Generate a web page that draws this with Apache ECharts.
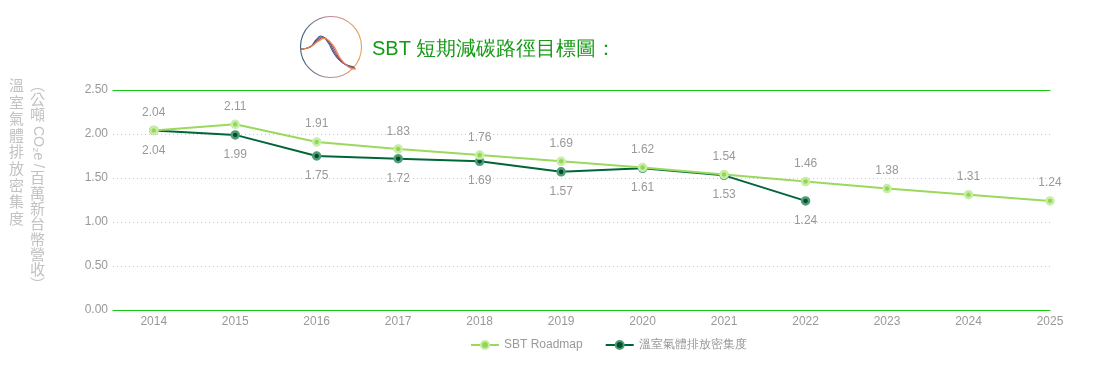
<!DOCTYPE html>
<html>
<head>
<meta charset="utf-8">
<script src="https://cdn.jsdelivr.net/npm/echarts@6/dist/echarts.min.js"></script>
<style>
html,body{margin:0;padding:0;background:#fff;}
#chart{width:1099px;height:369px;}
</style>
</head>
<body>
<div id="chart"></div>
<script>
var years = [2014, 2015, 2016, 2017, 2018, 2019, 2020, 2021, 2022, 2023, 2024, 2025];
var sbtRoadmap = [2.04, 2.11, 1.91, 1.83, 1.76, 1.69, 1.62, 1.54, 1.46, 1.38, 1.31, 1.24];
var actualYears = [2014, 2015, 2016, 2017, 2018, 2019, 2020, 2021, 2022];
var actualIntensity = [2.04, 1.99, 1.75, 1.72, 1.69, 1.57, 1.61, 1.53, 1.24];
var yTicks = [0, 0.5, 1, 1.5, 2, 2.5];
var titleText = 'SBT 短期減碳路徑目標圖：';
var seriesNames = ['SBT Roadmap', '溫室氣體排放密集度'];

var LAT = 'Liberation Sans';
var CJK = 'Noto Sans CJK TC';
var GREEN = '#14c814';

function pairs(xs, ys) { return xs.map(function (x, i) { return [x, ys[i]]; }); }

var logoCurves = [];
var curveColors = ['#2f5f86', '#6b4f8f', '#b5475d', '#e58a4a'];
curveColors.forEach(function (c, k) {
  var dx = k * 2.0, dy = k * 1.4;
  logoCurves.push({
    type: 'polyline',
    shape: {
      smooth: 0.5,
      points: [[301, 49], [310, 47], [316 + dx * 0.4, 40 + dy * 0.3], [321 + dx * 0.7, 36 + dy * 0.6],
               [327 + dx, 41 + dy], [335 + dx, 55 + dy], [343 + dx, 63 + dy], [354 + dx * 0.3, 67 + dy * 0.5]]
    },
    style: { stroke: c, lineWidth: 1.1, fill: null },
    silent: true
  });
});

var labelBase = { color: '#999', fontSize: 12, fontFamily: LAT };

var chart = echarts.init(document.getElementById('chart'));
chart.setOption({
  animation: false,
  textStyle: { fontFamily: LAT },
  title: {
    text: titleText,
    left: 367,
    top: 34,
    textStyle: { fontFamily: LAT, fontSize: 20, fontWeight: 'normal', color: '#149a14' }
  },
  grid: { left: 113, right: 49, top: 90, bottom: 59, containLabel: false },
  legend: {
    left: 465,
    top: 334,
    itemWidth: 28,
    itemHeight: 10,
    itemGap: 22,
    textStyle: { color: '#999', fontSize: 12, fontFamily: LAT },
    data: seriesNames
  },
  xAxis: [{
    type: 'value',
    min: 2013.5,
    max: 2025,
    interval: 0.5,
    axisLine: { show: true, onZero: false, lineStyle: { color: GREEN, width: 1.2 } },
    axisTick: { show: false },
    splitLine: { show: false },
    axisLabel: Object.assign({}, labelBase, {
      margin: 6,
      formatter: function (v) { return Math.abs(v - Math.round(v)) < 1e-6 ? String(Math.round(v)) : ''; }
    })
  }, {
    type: 'value',
    position: 'top',
    min: 2013.5,
    max: 2025,
    interval: 0.5,
    axisLine: { show: true, onZero: false, lineStyle: { color: GREEN, width: 1.2 } },
    axisTick: { show: false },
    splitLine: { show: false },
    axisLabel: { show: false }
  }],
  yAxis: {
    type: 'value',
    min: yTicks[0],
    max: yTicks[yTicks.length - 1],
    interval: yTicks[1] - yTicks[0],
    axisLine: { show: false },
    axisTick: { show: false },
    axisLabel: Object.assign({}, labelBase, { margin: 5, formatter: function (v) { return v.toFixed(2); } }),
    splitLine: { lineStyle: { type: [1, 3], color: '#c8c8c8', width: 1 } }
  },
  graphic: [
    {
      type: 'circle',
      shape: { cx: 331, cy: 47, r: 30.5 },
      style: {
        fill: null,
        lineWidth: 1.1,
        stroke: new echarts.graphic.LinearGradient(0, 0, 1, 0, [
          { offset: 0, color: '#2c5d80' },
          { offset: 0.5, color: '#c08a96' },
          { offset: 1, color: '#f0a24a' }
        ], false)
      },
      silent: true
    }
  ].concat(logoCurves).concat([
    {
      type: 'text',
      left: 9, top: 77,
      style: { text: '溫\n室\n氣\n體\n排\n放\n密\n集\n度', font: "15px 'Noto Sans CJK TC'", fill: '#c2c2c2', lineHeight: 16.6, align: 'center' }
    },
    {
      type: 'text',
      left: 30, top: 77,
      style: { text: '︵\n公\n噸', font: "15px 'Noto Sans CJK TC'", fill: '#c2c2c2', lineHeight: 15, align: 'center' }
    },
    {
      type: 'text',
      x: 38, y: 147,
      rotation: -Math.PI / 2,
      style: { text: 'CO₂e /', font: "14px 'Liberation Sans'", fill: '#c2c2c2', align: 'center', verticalAlign: 'middle' }
    },
    {
      type: 'text',
      left: 30, top: 170,
      style: { text: '百\n萬\n新\n台\n幣\n營\n收\n︶', font: "15px 'Noto Sans CJK TC'", fill: '#c2c2c2', lineHeight: 15.3, align: 'center' }
    }
  ]),
  series: [{
    name: seriesNames[0],
    type: 'line',
    data: pairs(years, sbtRoadmap),
    color: '#9ad95c',
    lineStyle: { width: 2, color: '#9ad95c' },
    symbol: 'circle',
    symbolSize: 7,
    itemStyle: { color: '#93d655', borderColor: '#c8eda6', borderWidth: 2.5 },
    label: Object.assign({}, labelBase, { show: true, position: 'top', distance: 7, formatter: function (p) { return p.value[1].toFixed(2); } }),
    z: 3
  }, {
    name: seriesNames[1],
    type: 'line',
    data: pairs(actualYears, actualIntensity),
    color: '#00663a',
    lineStyle: { width: 2, color: '#00663a' },
    symbol: 'circle',
    symbolSize: 7,
    itemStyle: { color: '#004f2c', borderColor: '#4f9c78', borderWidth: 2.5 },
    label: Object.assign({}, labelBase, { show: true, position: 'bottom', distance: 9, formatter: function (p) { return p.value[1].toFixed(2); } }),
    z: 2
  }]
});
</script>
</body>
</html>
